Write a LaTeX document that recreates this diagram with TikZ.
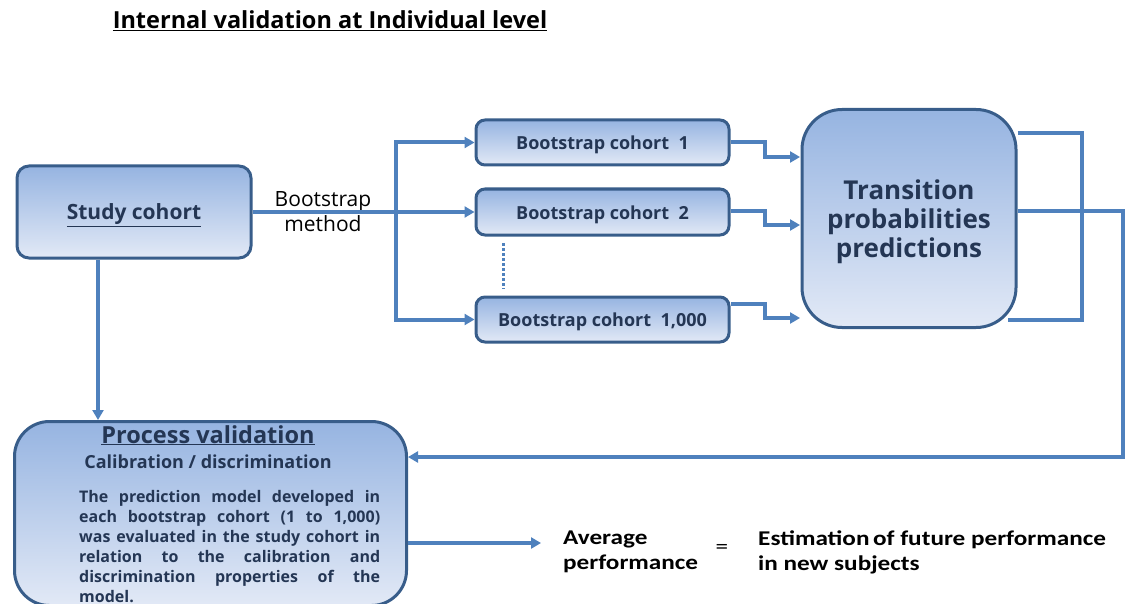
\documentclass[tikz,border=0pt]{standalone}
\usepackage{fontspec}
\setmainfont{Open Sans}
\newfontfamily\calib[FakeStretch=1.2]{Carlito}
\usetikzlibrary{arrows.meta}
\definecolor{lineblue}{RGB}{79,129,189}
\definecolor{edgeblue}{RGB}{56,93,138}
\definecolor{textnavy}{RGB}{36,54,84}
\definecolor{topfill}{RGB}{150,180,225}
\definecolor{botfill}{RGB}{226,233,246}
\tikzset{
  box/.style={draw=edgeblue, line width=3pt, rounded corners=12pt, top color=topfill, bottom color=botfill, text=textnavy, font=\bfseries, inner sep=0pt, align=center},
  cohort/.style={box, minimum width=253pt, rounded corners=9pt, font=\fontsize{18}{21}\selectfont\bfseries, text height=16pt, text depth=2pt},
  conn/.style={draw=lineblue, line width=4pt},
  arr/.style={conn, -{Triangle[width=11pt,length=10pt]}},
  boxtext/.style={text=textnavy, inner sep=0pt, align=center},
}
\begin{document}
\begin{tikzpicture}[x=1pt,y=-1pt]
\useasboundingbox (0,0) rectangle (1126,604);
\node[anchor=base, font=\fontsize{23.5}{28}\selectfont\bfseries, inner sep=0pt] (title) at (330,29) {\underline{Internal validation at Individual level}};
% boxes
\node[box, minimum width=234pt, minimum height=92pt] (study) at (134,212) {};
\node[boxtext, font=\fontsize{21}{24}\selectfont\bfseries] (studytext) at (134,215) {\underline{Study cohort}};
\node[cohort, minimum height=45pt] (b1) at (602.5,142.5) {Bootstrap cohort\ \ 1};
\node[cohort, minimum height=46pt] (b2) at (602.5,212) {Bootstrap cohort\ \ 2};
\node[cohort, minimum height=45pt] (b3) at (602.5,319.5) {Bootstrap cohort\ \ 1,000};
\node[box, minimum width=214pt, minimum height=218pt, rounded corners=40pt] (trans) at (909,218.5) {};
\node[boxtext, font=\fontsize{26}{29}\selectfont\bfseries] (transtext) at (909,221.5) {Transition\\probabilities\\predictions};
\node[box, minimum width=392pt, minimum height=184pt, rounded corners=35pt, anchor=north west] (proc) at (13,420) {};
\node[anchor=base, text=textnavy, font=\fontsize{23.5}{28}\selectfont\bfseries, inner sep=0pt] (ptitle) at (208,443) {\underline{Process validation}};
\node[anchor=base, text=textnavy, font=\fontsize{18}{21}\selectfont\bfseries, inner sep=0pt] (psub) at (208,468) {Calibration / discrimination};
\node[anchor=north west, text=textnavy, text width=301pt, align=justify, inner sep=0pt, font=\fontsize{16}{20}\selectfont\bfseries] (ptext) at (79,490) {\lefthyphenmin=62 The prediction model developed in\linebreak each bootstrap cohort (1 to 1,000)\linebreak was evaluated in the study cohort in\linebreak relation to the calibration and\linebreak discrimination properties of the\linebreak model.};
% labels
\node[align=center, font=\fontsize{21}{25}\selectfont, inner sep=0pt] (bm) at (323,212) {Bootstrap\\method};
\node[anchor=west, align=left, font=\calib\fontsize{21}{25}\selectfont\bfseries, inner sep=0pt] (avg) at (563,552) {Average\\performance};
\node[font=\calib\fontsize{21}{24}\selectfont, inner sep=0pt] (eq) at (722,549) {=};
\node[anchor=west, align=left, font=\calib\fontsize{21}{25}\selectfont\bfseries, inner sep=0pt] (est) at (758,552) {Estimation\,of future performance\\in new subjects};
% coordinates
\coordinate (split) at (396,212);
\coordinate (trIn1) at (800,157);
\coordinate (trIn2) at (800,225);
\coordinate (trIn3) at (800,318);
% connectors
\draw[conn] (study.east) -- (split);
\draw[arr] (split) |- (b1.west);
\draw[arr] (split) -- (b2.west);
\draw[arr] (split) |- (b3.west);
\draw[lineblue, line width=3pt, dash pattern=on 3pt off 2pt] (503,243) -- (503,289);
\draw[arr] (b1.east |- 0,142) -- (765,142) |- (trIn1);
\draw[arr] (b2.east |- 0,211) -- (765,211) |- (trIn2);
\draw[arr] (b3.east |- 0,304) -- (765,304) |- (trIn3);
\draw[conn] (trans.east |- 0,133) -- (1082,133) -- (1082,320) -- (1008,320);
\draw[arr] (trans.east |- 0,211) -- (1123,211) -- (1123,457) -- (proc.east |- 0,457);
\draw[arr] (study.south -| 98,0) -- (proc.north -| 98,0);
\draw[arr] (proc.east |- 0,543) -- (541,543);
\end{tikzpicture}
\end{document}
